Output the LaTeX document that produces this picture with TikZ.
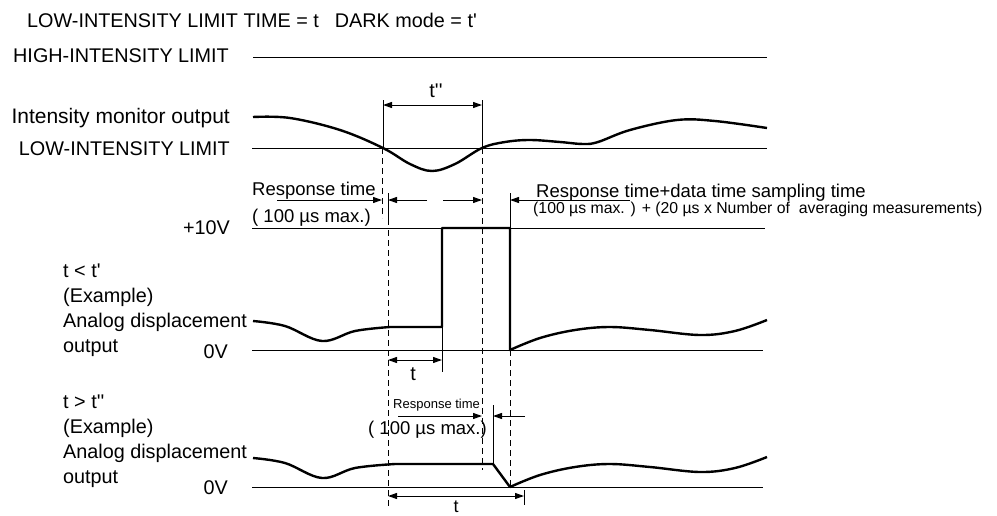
\documentclass[tikz,border=0pt]{standalone}
\usepackage{fontspec}
\setmainfont{Liberation Sans}[Ligatures=TeXOff]
\usetikzlibrary{arrows.meta}

\begin{document}
\begin{tikzpicture}[x=1pt,y=-1pt,
  lbl/.style={inner sep=0pt,font=\fontsize{19.8}{25}\selectfont},
  rsp/.style={inner sep=0pt,font=\fontsize{18.5}{22}\selectfont},
  sml/.style={inner sep=0pt,font=\fontsize{15.8}{18}\selectfont},
  tny/.style={inner sep=0pt,font=\fontsize{13}{15}\selectfont},
  level/.style={line width=1pt},
  wave/.style={line width=2.4pt,line join=round},
  guide/.style={line width=0.9pt,dash pattern=on 6pt off 4pt},
  tick/.style={line width=1pt},
  dimarrow/.style={line width=1pt,-{Triangle[length=9pt,width=6pt]}},
  dimboth/.style={line width=1pt,{Triangle[length=9pt,width=6pt]}-{Triangle[length=9pt,width=6pt]}}]
\useasboundingbox (0,0) rectangle (997,515);

\node[lbl,anchor=base west] (title) at (27,27) {LOW-INTENSITY LIMIT TIME = t\hspace{16pt}DARK mode = t'};
\node[lbl,anchor=base west] (hilim) at (13,62) {HIGH-INTENSITY LIMIT};
\node[lbl,anchor=base east,font=\fontsize{21}{25}\selectfont] (monitor) at (230,123) {Intensity monitor output};
\node[lbl,anchor=base east] (lolim) at (230,155) {LOW-INTENSITY LIMIT};
\node[lbl,anchor=base east] (plusten) at (230,234) {+10V};
\node[lbl,anchor=base west] (caseA) at (63,277) {t < t'};
\node[lbl,anchor=base west] (exA) at (63,302) {(Example)};
\node[lbl,anchor=base west] (analogA) at (63,327) {Analog displacement};
\node[lbl,anchor=base west] (outA) at (63,352) {output};
\node[lbl,anchor=base east] (zeroA) at (228,358) {0V};
\node[lbl,anchor=base west] (caseB) at (63,408) {t > t''};
\node[lbl,anchor=base west] (exB) at (63,433) {(Example)};
\node[lbl,anchor=base west] (analogB) at (63,458) {Analog displacement};
\node[lbl,anchor=base west] (outB) at (63,483) {output};
\node[lbl,anchor=base east] (zeroB) at (228,494) {0V};

\node[rsp,anchor=base west] (respA) at (252,195) {Response time};
\node[rsp,anchor=base west] (maxA) at (252,222) {( 100 µs max.)};
\node[rsp,anchor=base west] (respdata) at (536,197) {Response time+data time sampling time};
\node[sml,anchor=base west] (sampling) at (533,213) {(100 µs max. ) + (20 µs x Number of\ \ averaging measurements)};
\node[tny,anchor=base west] (respB) at (393,408) {Response time};
\node[rsp,anchor=base west] (maxB) at (368,434) {( 100 µs max.)};
\node[lbl,anchor=base] (tpp) at (436,97) {t''};
\node[lbl,anchor=base] (tA) at (413,380) {t};
\node[lbl,anchor=base,font=\fontsize{18}{20}\selectfont] (tB) at (456,512) {t};

\draw[level] (253,57) -- (767,57);
\draw[level] (252,148) -- (767,148);
\draw[level] (252,228) -- (765,228);
\draw[level] (252,350) -- (763,350);
\draw[level] (252,487) -- (763,487);

\draw[wave] plot[smooth,tension=0.6] coordinates {(253,117) (290,118) (340,130) (383,148) (410,164) (432,171) (455,164) (482,148) (505,142) (530,140) (560,142) (583,144) (598,142) (630,130) (677,120) (715,121) (767,128)};
\draw[wave] plot[smooth,tension=0.6] coordinates {(253,321) (285,326) (322,341) (355,331) (390,327)} -- (442,327) -- (442,228) -- (510,228) -- (510,350)
  -- plot[smooth,tension=0.6] coordinates {(510,350) (540,338) (575,330) (610,327) (650,330) (700,335) (735,331) (767,320)};
\draw[wave] plot[smooth,tension=0.6] coordinates {(253,458) (285,463) (322,478) (355,468) (395,464)} -- (493,464) -- (510,487)
  -- plot[smooth,tension=0.6] coordinates {(510,487) (540,475) (575,467) (610,464) (650,467) (700,472) (735,468) (767,457)};

\draw[guide] (382,148) -- (382,218);
\draw[guide] (388,230) -- (388,507);
\draw[guide] (482,148) -- (482,470);
\draw[guide] (510,350) -- (510,487);

\draw[tick] (383,100) -- (383,148);
\draw[tick] (482,100) -- (482,148);
\draw[tick] (388,193) -- (388,225);
\draw[tick] (510,193) -- (510,228);
\draw[tick] (442,327) -- (442,372);
\draw[tick] (493,405) -- (493,463);
\draw[tick] (524,490) -- (524,505);

\coordinate (tpp-l) at (383,105);
\coordinate (tpp-r) at (482,105);
\coordinate (ra-a) at (277,200);
\coordinate (ra-b) at (382,200);
\coordinate (rb-a) at (427,200);
\coordinate (rb-b) at (388,200);
\coordinate (rc-a) at (443,200);
\coordinate (rc-b) at (482,200);
\coordinate (rd-a) at (630,200);
\coordinate (rd-b) at (510,200);
\coordinate (ta-l) at (388,360);
\coordinate (ta-r) at (442,360);
\coordinate (re-a) at (398,416);
\coordinate (re-b) at (482,416);
\coordinate (rf-a) at (525,416);
\coordinate (rf-b) at (493,416);
\coordinate (tb-l) at (388,496);
\coordinate (tb-r) at (524,496);

\draw[dimboth] (tpp-l) -- (tpp-r);
\draw[dimarrow] (ra-a) -- (ra-b);
\draw[dimarrow] (rb-a) -- (rb-b);
\draw[dimarrow] (rc-a) -- (rc-b);
\draw[dimarrow] (rd-a) -- (rd-b);
\draw[dimboth] (ta-l) -- (ta-r);
\draw[dimarrow] (re-a) -- (re-b);
\draw[dimarrow] (rf-a) -- (rf-b);
\draw[dimboth] (tb-l) -- (tb-r);
\end{tikzpicture}
\end{document}
